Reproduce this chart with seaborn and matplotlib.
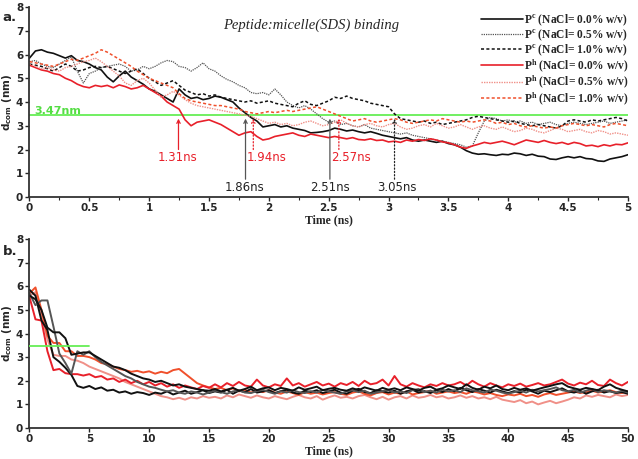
import numpy as np
import pandas as pd
import seaborn as sns
import matplotlib.pyplot as plt

# ---- data ----
t_a = np.linspace(0, 5, 101)      # panel a, every 0.05 ns
t_b = np.linspace(0, 50, 101)     # panel b, every 0.5 ns

labels = ["$\\mathbf{P^{c}}$ (NaCl= 0.0% w/v)", "$\\mathbf{P^{c}}$ (NaCl= 0.5% w/v)",
          "$\\mathbf{P^{c}}$ (NaCl= 1.0% w/v)", "$\\mathbf{P^{h}}$ (NaCl= 0.0% w/v)",
          "$\\mathbf{P^{h}}$ (NaCl= 0.5% w/v)", "$\\mathbf{P^{h}}$ (NaCl= 1.0% w/v)"]

pc00_a = [5.85, 6.15, 6.2, 6.1, 6.05, 5.95, 5.85, 5.95, 5.75, 5.7, 5.6, 5.45, 5.35, 5.05, 4.85, 5.1, 5.3, 5.05, 4.9, 4.75,
          4.55, 4.45, 4.3, 4.15, 4.0, 4.55, 4.3, 4.15, 4.2, 4.1, 4.15, 4.25, 4.2, 4.1, 4.0, 3.75, 3.55, 3.35, 3.2, 2.95,
          3.0, 3.05, 2.95, 3.0, 2.9, 2.85, 2.8, 2.7, 2.72, 2.75, 2.8, 2.9, 2.85, 2.78, 2.82, 2.75, 2.7, 2.75, 2.68, 2.6,
          2.55, 2.5, 2.45, 2.5, 2.4, 2.35, 2.4, 2.35, 2.3, 2.35, 2.25, 2.2, 2.1, 1.95, 1.85, 1.8, 1.82, 1.78, 1.75, 1.8,
          1.78, 1.85, 1.82, 1.75, 1.8, 1.72, 1.7, 1.6, 1.58, 1.65, 1.7, 1.65, 1.7, 1.62, 1.6, 1.52, 1.5, 1.6, 1.65, 1.7,
          1.78]
pc05_a = [5.7, 5.75, 5.6, 5.5, 5.45, 5.6, 5.75, 5.9, 5.3, 4.8, 5.2, 5.3, 5.45, 5.5, 5.55, 5.6, 5.5, 5.3, 5.35, 5.5,
          5.4, 5.5, 5.65, 5.75, 5.7, 5.5, 5.45, 5.3, 5.45, 5.65, 5.4, 5.3, 5.1, 4.95, 4.85, 4.7, 4.6, 4.4, 4.35, 4.4,
          4.3, 4.55, 4.3, 4.0, 3.85, 3.75, 3.85, 3.7, 3.5, 3.3, 3.15, 3.2, 3.05, 3.1, 3.0, 2.95, 3.05, 2.9, 2.85, 2.8,
          2.75, 2.7, 2.65, 2.7, 2.6, 2.55, 2.5, 2.45, 2.4, 2.35, 2.3, 2.25, 2.2, 2.1, 2.15, 2.7, 3.2, 3.35, 3.3, 3.2,
          3.25, 3.15, 3.2, 3.1, 3.15, 3.05, 3.1, 3.15, 3.05, 3.0, 3.1, 3.15, 3.1, 3.05, 3.1, 3.15, 3.2, 3.1, 3.15, 3.2,
          3.25]
pc10_a = [5.6, 5.55, 5.5, 5.4, 5.3, 5.45, 5.6, 5.5, 5.3, 5.35, 5.45, 5.5, 5.45, 5.5, 5.4, 5.3, 5.2, 5.3, 5.4, 5.2,
          5.0, 4.85, 4.7, 4.8, 4.9, 4.7, 4.5, 4.4, 4.3, 4.35, 4.25, 4.3, 4.2, 4.15, 4.1, 4.05, 4.0, 4.05, 3.95, 4.0,
          4.05, 3.95, 3.9, 3.85, 3.8, 3.95, 4.05, 3.9, 3.85, 3.95, 4.05, 4.2, 4.15, 4.25, 4.15, 4.1, 4.05, 3.95, 3.9, 3.85,
          3.8, 3.5, 3.3, 3.25, 3.2, 3.15, 3.2, 3.1, 3.15, 3.05, 3.1, 3.15, 3.2, 3.25, 3.35, 3.4, 3.35, 3.3, 3.25, 3.2,
          3.15, 3.2, 3.1, 3.05, 3.0, 3.05, 3.0, 2.95, 2.9, 3.0, 3.2, 3.25, 3.2, 3.15, 3.25, 3.2, 3.25, 3.3, 3.35, 3.3,
          3.2]
ph00_a = [5.55, 5.45, 5.35, 5.3, 5.2, 5.15, 5.0, 4.9, 4.75, 4.65, 4.6, 4.7, 4.65, 4.7, 4.6, 4.72, 4.65, 4.55, 4.6, 4.7,
          4.55, 4.4, 4.25, 4.0, 3.85, 3.7, 3.25, 3.0, 3.15, 3.2, 3.25, 3.15, 3.05, 2.9, 2.75, 2.6, 2.7, 2.75, 2.55, 2.4,
          2.45, 2.55, 2.6, 2.65, 2.7, 2.6, 2.55, 2.65, 2.6, 2.55, 2.5, 2.55, 2.5, 2.45, 2.5, 2.42, 2.4, 2.45, 2.38, 2.4,
          2.32, 2.35, 2.3, 2.4, 2.35, 2.42, 2.38, 2.45, 2.4, 2.32, 2.28, 2.2, 2.1, 2.05, 2.15, 2.22, 2.3, 2.25, 2.3, 2.35,
          2.28, 2.2, 2.3, 2.4, 2.35, 2.3, 2.38, 2.3, 2.25, 2.3, 2.22, 2.3, 2.25, 2.15, 2.18, 2.12, 2.2, 2.15, 2.22, 2.2,
          2.28]
ph05_a = [5.6, 5.5, 5.4, 5.45, 5.35, 5.3, 5.45, 5.5, 5.6, 5.7, 5.75, 5.85, 5.7, 5.5, 5.3, 5.1, 4.8, 4.7, 4.9, 5.0,
          4.8, 4.5, 4.2, 4.3, 4.45, 4.3, 4.1, 3.95, 3.85, 3.8, 3.75, 3.7, 3.65, 3.6, 3.55, 3.5, 3.45, 3.4, 3.3, 3.2,
          3.1, 3.15, 3.05, 3.1, 3.0, 3.05, 3.15, 3.2, 3.1, 3.0, 3.05, 3.15, 3.25, 3.1, 3.0, 2.95, 3.05, 3.1, 3.0, 2.95,
          3.05, 3.1, 2.95, 2.85, 2.9, 3.0, 3.05, 2.95, 3.1, 3.0, 2.9, 2.95, 3.05, 2.95, 2.85, 2.95, 3.0, 2.9, 2.85, 2.95,
          2.85, 2.75, 2.8, 2.9, 2.85, 2.75, 2.7, 2.8, 2.9, 2.85, 2.75, 2.8, 2.85, 2.75, 2.7, 2.8, 2.75, 2.65, 2.7, 2.65,
          2.6]
ph10_a = [5.7, 5.65, 5.6, 5.55, 5.5, 5.6, 5.7, 5.8, 5.75, 5.85, 5.95, 6.05, 6.2, 6.1, 5.95, 5.8, 5.65, 5.5, 5.3, 5.15,
          5.0, 4.9, 4.8, 4.7, 4.6, 4.35, 4.15, 4.05, 4.0, 3.95, 3.9, 3.85, 3.85, 3.8, 3.75, 3.7, 3.6, 3.55, 3.5, 3.55,
          3.6, 3.55, 3.6, 3.65, 3.6, 3.65, 3.7, 3.75, 3.8, 3.7, 3.6, 3.5, 3.4, 3.3, 3.2, 3.25, 3.3, 3.2, 3.15, 3.2,
          3.25, 3.3, 3.25, 3.15, 3.1, 3.15, 3.2, 3.25, 3.2, 3.3, 3.25, 3.2, 3.15, 3.2, 3.15, 3.2, 3.25, 3.2, 3.1, 3.15,
          3.05, 3.1, 3.0, 2.95, 3.0, 2.95, 2.9, 2.95, 2.9, 3.0, 3.05, 3.1, 3.05, 3.0, 3.05, 3.0, 2.95, 3.05, 3.1, 3.05,
          3.0]

pc00_b = [5.85, 5.6, 4.55, 4.15, 3.0, 2.8, 2.55, 2.25, 1.78, 1.7, 1.78,
          1.65, 1.72, 1.58, 1.62, 1.5, 1.55, 1.45, 1.52, 1.48, 1.4,
          1.5, 1.45, 1.55, 1.42, 1.5, 1.58, 1.45, 1.52, 1.6, 1.48,
          1.55, 1.5, 1.62, 1.45, 1.58, 1.52, 1.65, 1.5, 1.55, 1.6,
          1.48, 1.56, 1.62, 1.5, 1.45, 1.58, 1.52, 1.6, 1.48, 1.55,
          1.62, 1.5, 1.45, 1.58, 1.66, 1.52, 1.48, 1.6, 1.55, 1.5,
          1.58, 1.45, 1.55, 1.62, 1.5, 1.56, 1.48, 1.6, 1.52, 1.65,
          1.55, 1.7, 1.6, 1.52, 1.65, 1.58, 1.5, 1.62, 1.55, 1.48,
          1.56, 1.5, 1.62, 1.55, 1.45, 1.58, 1.52, 1.6, 1.68, 1.55,
          1.5, 1.58, 1.45, 1.55, 1.62, 1.5, 1.56, 1.48, 1.52, 1.45]
pc05_b = [5.7, 5.2, 5.4, 5.4, 4.3, 3.15, 2.75, 2.3, 3.25, 3.1, 3.25,
          3.0, 2.8, 2.65, 2.5, 2.35, 2.2, 2.1, 1.95, 1.85, 1.75,
          1.7, 1.62, 1.55, 1.6, 1.5, 1.45, 1.55, 1.5, 1.42, 1.5,
          1.58, 1.52, 1.45, 1.55, 1.6, 1.5, 1.48, 1.56, 1.62, 1.52,
          1.45, 1.55, 1.5, 1.6, 1.52, 1.48, 1.56, 1.5, 1.62, 1.55,
          1.5, 1.45, 1.55, 1.6, 1.52, 1.58, 1.45, 1.5, 1.56, 1.62,
          1.5, 1.55, 1.48, 1.6, 1.65, 1.52, 1.58, 1.5, 1.62, 1.55,
          1.6, 1.52, 1.68, 1.6, 1.55, 1.5, 1.62, 1.58, 1.5, 1.45,
          1.52, 1.58, 1.5, 1.62, 1.55, 1.6, 1.65, 1.72, 1.6, 1.55,
          1.62, 1.5, 1.58, 1.65, 1.52, 1.6, 1.55, 1.5, 1.58, 1.5]
pc10_b = [5.6, 5.45, 5.0, 4.25, 4.05, 4.05, 3.8, 3.1, 3.15, 3.2, 3.2,
          3.05, 2.9, 2.75, 2.6, 2.55, 2.45, 2.3, 2.2, 2.1, 2.05,
          1.95, 2.0, 1.9, 1.8, 1.85, 1.75, 1.7, 1.65, 1.6, 1.58,
          1.65, 1.55, 1.62, 1.7, 1.58, 1.65, 1.75, 1.6, 1.68, 1.72,
          1.6, 1.7, 1.65, 1.58, 1.72, 1.62, 1.68, 1.75, 1.6, 1.66,
          1.7, 1.62, 1.58, 1.68, 1.6, 1.72, 1.65, 1.58, 1.7, 1.62,
          1.68, 1.6, 1.72, 1.65, 1.58, 1.7, 1.75, 1.62, 1.68, 1.8,
          1.72, 1.65, 1.85, 1.7, 1.62, 1.75, 1.68, 1.8, 1.65, 1.6,
          1.7, 1.62, 1.68, 1.58, 1.65, 1.72, 1.78, 1.85, 1.9, 1.75,
          1.68, 1.62, 1.7, 1.65, 1.6, 1.75, 1.85, 1.7, 1.62, 1.55]
ph00_b = [5.55, 4.6, 4.55, 3.25, 2.45, 2.5, 2.32, 2.28, 2.28, 2.22, 2.28,
          2.15, 2.2, 2.05, 2.1, 1.95, 2.05, 1.9, 2.0, 1.85, 1.95,
          1.8, 1.9, 1.75, 1.85, 1.7, 1.8, 1.72, 1.65, 1.78, 1.7,
          1.85, 1.72, 1.9, 1.78, 1.95, 1.8, 1.75, 2.05, 1.8, 1.72,
          1.85, 1.78, 2.1, 1.8, 1.9, 1.75, 1.85, 1.95, 1.8, 1.88,
          1.75, 1.9, 1.82, 1.95, 1.78, 2.0, 1.85, 1.9, 2.05, 1.8,
          2.2, 1.85, 1.75, 1.9, 1.8, 1.72, 1.85, 1.78, 1.9, 1.8,
          1.85, 1.95, 1.8, 2.0, 1.85, 1.75, 1.9, 1.8, 1.72, 1.85,
          1.78, 1.88, 1.75, 1.82, 1.9, 1.8, 1.85, 1.95, 2.05, 1.88,
          1.8, 1.92, 1.85, 2.0, 1.82, 1.78, 2.05, 1.9, 1.8, 1.95]
ph05_b = [5.6, 5.75, 4.8, 3.75, 3.1, 3.05, 3.05, 2.9, 2.85, 2.75, 2.6,
          2.5, 2.4, 2.3, 2.2, 2.1, 1.95, 1.85, 1.75, 1.65, 1.55,
          1.45, 1.35, 1.3, 1.22, 1.28, 1.2, 1.3, 1.25, 1.35, 1.28,
          1.32, 1.25, 1.38, 1.3, 1.42, 1.35, 1.28, 1.38, 1.3, 1.25,
          1.35, 1.28, 1.22, 1.32, 1.4, 1.3, 1.25, 1.35, 1.2, 1.3,
          1.38, 1.28, 1.32, 1.25, 1.35, 1.4, 1.3, 1.22, 1.32, 1.2,
          1.3, 1.35, 1.25, 1.38, 1.28, 1.32, 1.4, 1.3, 1.35, 1.25,
          1.3, 1.38, 1.28, 1.35, 1.25, 1.3, 1.22, 1.32, 1.2, 1.15,
          1.1, 1.18, 1.05, 1.12, 1.0, 1.08, 1.15, 1.05, 1.12, 1.2,
          1.3, 1.25, 1.38, 1.32, 1.4, 1.35, 1.3, 1.42, 1.35, 1.4]
ph10_b = [5.7, 5.95, 5.0, 3.9, 3.6, 3.6, 3.25, 3.25, 3.05, 3.05, 3.0,
          2.9, 2.75, 2.7, 2.6, 2.5, 2.45, 2.38, 2.42, 2.35, 2.4,
          2.3, 2.38, 2.32, 2.45, 2.5, 2.3, 2.1, 1.9, 1.8, 1.72,
          1.65, 1.7, 1.6, 1.68, 1.55, 1.62, 1.5, 1.58, 1.52, 1.6,
          1.5, 1.45, 1.55, 1.48, 1.4, 1.52, 1.45, 1.5, 1.42, 1.48,
          1.52, 1.45, 1.4, 1.5, 1.55, 1.45, 1.38, 1.48, 1.52, 1.42,
          1.5, 1.45, 1.55, 1.42, 1.48, 1.52, 1.58, 1.45, 1.5, 1.55,
          1.48, 1.52, 1.45, 1.55, 1.5, 1.42, 1.48, 1.4, 1.35, 1.42,
          1.38, 1.45, 1.35, 1.4, 1.32, 1.42, 1.48, 1.4, 1.45, 1.5,
          1.55, 1.48, 1.52, 1.58, 1.5, 1.55, 1.6, 1.52, 1.48, 1.55]

cutoff = 3.47
# crossing times: (label, arrow x, text x, text y, arrow start y, colour, linestyle)
marks = [("1.31ns", 1.245, 1.24, 1.68, 2.0, "#e8202a", "-"),
         ("1.86ns", 1.805, 1.80, 0.42, 0.75, "#555555", "-"),
         ("1.94ns", 1.87, 1.98, 1.68, 2.0, "#e8202a", ":"),
         ("2.51ns", 2.51, 2.51, 0.42, 0.75, "#555555", "-"),
         ("2.57ns", 2.585, 2.69, 1.68, 2.0, "#e8202a", ":"),
         ("3.05ns", 3.05, 3.07, 0.42, 0.75, "#222222", ":")]

colors = ["#111111", "#555555", "#111111", "#e8202a", "#f09088", "#f0502c"]
styles = ["-", (0, (1, 0.8)), (0, (2, 1.5)), "-", (0, (1, 0.8)), (0, (2, 1.5))]
widths_a = [1.2, 0.9, 1.1, 1.2, 1.0, 1.1]

series_a = [pc00_a, pc05_a, pc10_a, ph00_a, ph05_a, ph10_a]
series_b = [pc00_b, pc05_b, pc10_b, ph00_b, ph05_b, ph10_b]

sns.set_style("ticks")
plt.rcParams['font.family'] = ['DejaVu Sans']
plt.rcParams['mathtext.fontset'] = 'custom'
plt.rcParams['mathtext.rm'] = 'Liberation Serif'
plt.rcParams['mathtext.bf'] = 'Liberation Serif:bold'
plt.rcParams['mathtext.sf'] = 'DejaVu Sans:bold'

fig = plt.figure(figsize=(6.38, 4.59), dpi=100)
ax1 = fig.add_axes([0.0462, 0.5708, 0.938, 0.4139])
ax2 = fig.add_axes([0.0462, 0.0675, 0.938, 0.4118])

for i in range(6):
    sns.lineplot(x=t_a, y=series_a[i], ax=ax1, color=colors[i], linestyle=styles[i],
                 linewidth=widths_a[i], label=labels[i])
# panel b drawn with Pc on top
for i in [4, 5, 3, 0, 1, 2]:
    sns.lineplot(x=t_b, y=series_b[i], ax=ax2, color=colors[i], linestyle="-",
                 linewidth=1.4, legend=False)

ax1.axhline(cutoff, color="#66ee55", lw=1.3, zorder=1)
ax2.plot([0, 5], [cutoff, cutoff], color="#66ee55", lw=1.3, zorder=5)
ax1.text(0.04, cutoff + 0.15, "3.47nm", color="#55dd44", fontsize=8, fontweight="bold", va="center")

for lab, xa, tx, ty, y0, c, ls in marks:
    ax1.annotate("", xy=(xa, 3.3), xytext=(xa, y0),
                 arrowprops=dict(arrowstyle="->", color=c, lw=0.9, linestyle=ls, mutation_scale=6,
                                 shrinkA=0, shrinkB=0))
    ax1.text(tx, ty, lab, color=c if c != "#555555" else "#222222", fontsize=8.5,
             ha="center", va="center")

ax1.text(0.47, 0.905, "Peptide:micelle(SDS) binding", transform=ax1.transAxes, ha="center",
         va="center", fontsize=10.5, style="italic", family="Liberation Serif")

leg = ax1.legend(loc="upper right", bbox_to_anchor=(1.01, 0.995), frameon=False, handlelength=3.6,
                 handletextpad=0.15, labelspacing=-0.05, borderaxespad=0,
                 prop={"family": "Liberation Serif", "weight": "bold", "size": 8.3})

for ax, xmax, step in [(ax1, 5, 0.5), (ax2, 50, 5)]:
    ax.set_xlim(0, xmax)
    ax.set_ylim(0, 8)
    ax.set_xticks(np.arange(0, xmax + 0.001, step))
    ax.set_yticks(range(0, 9))
    ax.set_xticklabels([f"{v:g}" for v in np.arange(0, xmax + 0.001, step)])
    sns.despine(ax=ax)
    for s in ["left", "bottom"]:
        ax.spines[s].set_linewidth(1.3)
        ax.spines[s].set_color("#333333")
    ax.tick_params(length=3, width=1, labelsize=7.5, pad=1.5)
    for lbl in ax.get_xticklabels() + ax.get_yticklabels():
        lbl.set_fontweight("bold")
    ax.set_xlabel("Time (ns)", family="Liberation Serif", fontweight="bold", fontsize=8.5, labelpad=1)
    ax.set_ylabel("$\\mathsf{d_{com}}$ (nm)", fontweight="bold", fontsize=7.5)
    ax.yaxis.set_label_coords(-0.026, 0.5)

ax1.set_xticks(np.arange(0.25, 5, 0.5), minor=True)
ax1.tick_params(which="minor", length=2, width=0.8)

fig.text(0.004, 0.961, "a.", fontsize=9.5, fontweight="bold", va="center")
fig.text(0.004, 0.452, "b.", fontsize=9.5, fontweight="bold", va="center")

fig.savefig("out.png", dpi=100)
